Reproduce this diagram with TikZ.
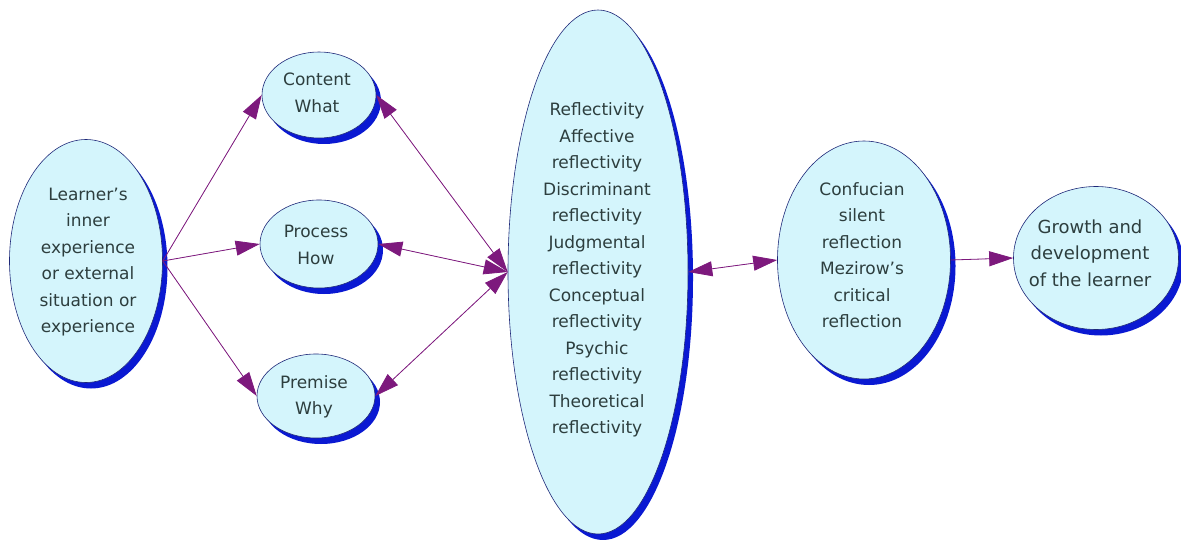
\documentclass[tikz,border=0pt]{standalone}
\usepackage{fontspec}
\setmainfont{DejaVu Sans}
\usetikzlibrary{shapes.geometric,shadows,arrows.meta}
\definecolor{fillc}{RGB}{212,245,252}
\definecolor{edgec}{RGB}{30,40,120}
\definecolor{shadc}{RGB}{10,25,210}
\definecolor{txtc}{RGB}{45,62,62}
\definecolor{arrc}{RGB}{125,25,125}
\begin{document}
\begin{tikzpicture}[x=1pt,y=-1pt,
 bub/.style={ellipse, draw=edgec, line width=0.6pt, fill=fillc, inner sep=0pt,
   general shadow={fill=shadc, shadow xshift=5pt, shadow yshift=-6pt}},
 txt/.style={align=center, text=txtc, font=\fontsize{17}{26.5}\selectfont, inner sep=0pt},
 tip/.tip={Triangle[length=24pt,width=15pt]},
 arr/.style={draw=arrc, fill=arrc, line width=0.8pt, -tip},
 darr/.style={draw=arrc, fill=arrc, line width=0.8pt, tip-tip}]
\useasboundingbox (0,0) rectangle (1181,540);
% ellipses
\node[bub, minimum width=153pt, minimum height=243pt] (learner) at (86,261) {};
\node[bub, minimum width=114pt, minimum height=86pt] (content) at (319,95) {};
\node[bub, minimum width=118pt, minimum height=88pt] (process) at (319,244) {};
\node[bub, minimum width=118pt, minimum height=84pt] (premise) at (316,396) {};
\node[bub, minimum width=180pt, minimum height=524pt] (big) at (598,272) {};
\node[bub, minimum width=173pt, minimum height=238pt] (conf) at (864,260) {};
\node[bub, minimum width=165pt, minimum height=143pt] (growth) at (1096,258) {};
% texts
\node[txt] (learnerT) at (88,262) {Learner's\\inner\\experience\\or external\\situation or\\experience};
\node[txt] (contentT) at (317,93) {Content\\What};
\node[txt] (processT) at (316,245) {Process\\How};
\node[txt] (premiseT) at (314,397) {Premise\\Why};
\node[txt] (bigT) at (597,270) {Reflectivity\\Affective\\reflectivity\\Discriminant\\reflectivity\\Judgmental\\reflectivity\\Conceptual\\reflectivity\\Psychic\\reflectivity\\Theoretical\\reflectivity};
\node[txt] (confT) at (862,255) {Confucian\\silent\\reflection\\Mezirow's\\critical\\reflection};
\node[txt, font=\fontsize{18}{26.5}\selectfont] (growthT) at (1090,253) {Growth and\\development\\of the learner};
% connectors
\draw[arr] (learner.east) -- (content.west);
\draw[arr] (learner.east) -- (process.west);
\draw[arr] (learner.east) -- (premise.west);
\draw[darr] (content.east) -- (big.west);
\draw[darr] (process.east) -- (big.west);
\draw[darr] (premise.east) -- (big.west);
\draw[darr] (big.east) -- (conf.west);
\draw[arr] (conf.east) -- (growth.west);
\end{tikzpicture}
\end{document}
